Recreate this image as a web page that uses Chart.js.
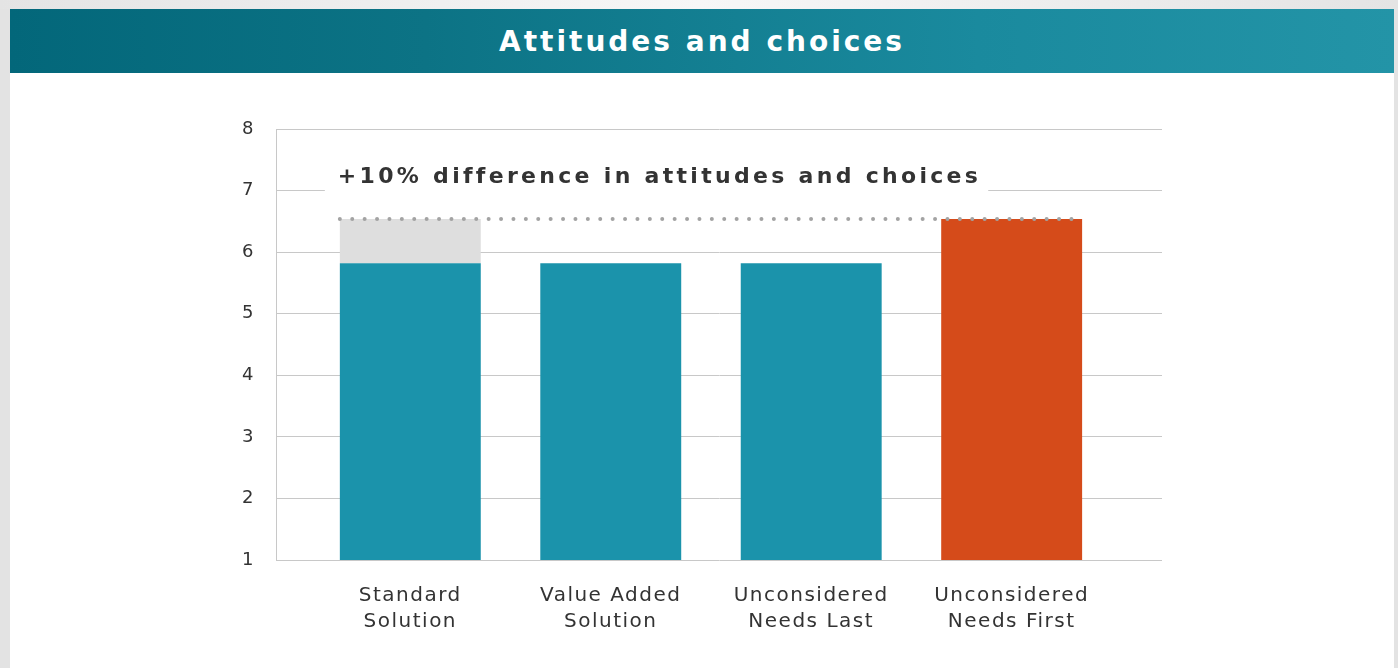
<!DOCTYPE html>
<html>
<head>
<meta charset="utf-8">
<script src="https://cdn.jsdelivr.net/npm/chart.js"></script>
<style>
    html, body { margin: 0; padding: 0; }
    body {
        width: 1398px; height: 668px; overflow: hidden;
        background: #e3e3e3;
        font-family: "DejaVu Sans", Verdana, sans-serif;
        position: relative;
    }
    .top-strip {
        position: absolute; left: 0; top: 0; width: 1398px; height: 9px;
        background: linear-gradient(to right, #e4e4e4, #f7f7f7 50%, #e4e4e4);
    }
    .card {
        position: absolute; left: 10px; top: 9px; width: 1384px; height: 659px;
        background: #ffffff;
    }
    .card-header {
        height: 64px;
        background: linear-gradient(to right, #03677a 0%, #0c7385 30%, #1a8a9e 70%, #2394a7 100%);
        color: #fff;
        font-weight: bold;
        font-size: 28px;
        letter-spacing: 3px;
        text-align: center;
        line-height: 66px;
    }
    #chartCanvas { position: absolute; left: 0; top: 73px; }
</style>
</head>
<body>
<div class="top-strip"></div>
<div class="card">
    <div class="card-header">Attitudes and choices</div>
</div>
<canvas id="chartCanvas" width="1398" height="595"></canvas>
<script>
// categories (one entry per bar, split into label lines)
const categories = [
    ['Standard', 'Solution'],
    ['Value Added', 'Solution'],
    ['Unconsidered', 'Needs Last'],
    ['Unconsidered', 'Needs First']
];
const baseValues = [5.82, 5.82, 5.82, 6.54];
const gapValues = [0.72, 0, 0, 0];   // grey "missing" part on top of the first bar
const barColors = ['#1b93ab', '#1b93ab', '#1b93ab', '#d54b1a'];
const yTicks = [1, 2, 3, 4, 5, 6, 7, 8];
const noteText = '+10% difference in attitudes and choices';

const FONT = '"DejaVu Sans", Verdana, sans-serif';

// dotted line at the top of the tallest bar + the note text with its white box
const notePlugin = {
    id: 'note',
    afterDatasetsDraw(chart) {
        const ctx = chart.ctx;
        const y = chart.scales.y;
        const first = chart.getDatasetMeta(0).data[0];
        const last = chart.getDatasetMeta(0).data[categories.length - 1];
        const level = Math.max(...baseValues.map((v, i) => v + gapValues[i]));
        const py = Math.round(y.getPixelForValue(level));
        const x0 = first.x - first.width / 2;
        const x1 = last.x + last.width / 2;
        ctx.save();
        ctx.strokeStyle = '#a3a3a3';
        ctx.lineWidth = 4;
        ctx.lineCap = 'round';
        ctx.setLineDash([0, 12.4]);
        ctx.beginPath();
        ctx.moveTo(x0, py);
        ctx.lineTo(x1, py);
        ctx.stroke();
        ctx.restore();

        // note text
        ctx.save();
        ctx.font = 'bold 22px ' + FONT;
        ctx.letterSpacing = '3.3px';
        const w = ctx.measureText(noteText).width;
        const ty = y.getPixelForValue(7) - 13;
        const tx = x0 - 2;
        ctx.fillStyle = '#ffffff';
        ctx.fillRect(tx - 13, ty - 17, w + 20, 34);
        ctx.fillStyle = '#333333';
        ctx.textAlign = 'left';
        ctx.textBaseline = 'middle';
        ctx.fillText(noteText, tx, ty);
        ctx.restore();
    }
};

const letterSpacingPlugin = {
    id: 'spacing',
    beforeDraw(chart) { chart.ctx.letterSpacing = '1.5px'; }
};

new Chart(document.getElementById('chartCanvas'), {
    type: 'bar',
    data: {
        datasets: [{
            data: baseValues.map((v, i) => ({ x: i, y: v })),
            backgroundColor: barColors,
            barPercentage: 0.703,
            categoryPercentage: 1
        }, {
            data: gapValues.map((v, i) => ({ x: i, y: v })),
            backgroundColor: '#dedede',
            barPercentage: 0.703,
            categoryPercentage: 1
        }]
    },
    options: {
        responsive: false,
        animation: false,
        devicePixelRatio: 1,
        layout: { padding: { left: 216, right: 236, top: 56, bottom: 28 } },
        plugins: { legend: { display: false }, tooltip: { enabled: false }, title: { display: false } },
        scales: {
            x: {
                type: 'linear',
                stacked: true,
                offset: false,
                min: -0.67,
                max: 3.75,
                afterBuildTicks: (scale) => { scale.ticks = categories.map((c, i) => ({ value: i })); },
                afterFit: (scale) => { scale.height = 80; },
                grid: { display: false, drawTicks: false },
                border: { display: false },
                ticks: {
                    autoSkip: false,
                    maxRotation: 0,
                    padding: 23,
                    color: '#333333',
                    font: { family: FONT, size: 20, lineHeight: 1.3 },
                    callback: (value) => categories[value]
                }
            },
            y: {
                stacked: true,
                min: 1,
                max: 8,
                afterBuildTicks: (scale) => { scale.ticks = yTicks.map(v => ({ value: v })); },
                afterFit: (scale) => { scale.width = 60; },
                grid: { color: '#c8c8c8', lineWidth: 1, drawTicks: false },
                border: { display: true, color: '#c8c8c8', width: 1 },
                ticks: {
                    padding: 21,
                    color: '#333333',
                    font: { family: FONT, size: 18 }
                }
            }
        }
    },
    plugins: [letterSpacingPlugin, notePlugin]
});
</script>
</body>
</html>
